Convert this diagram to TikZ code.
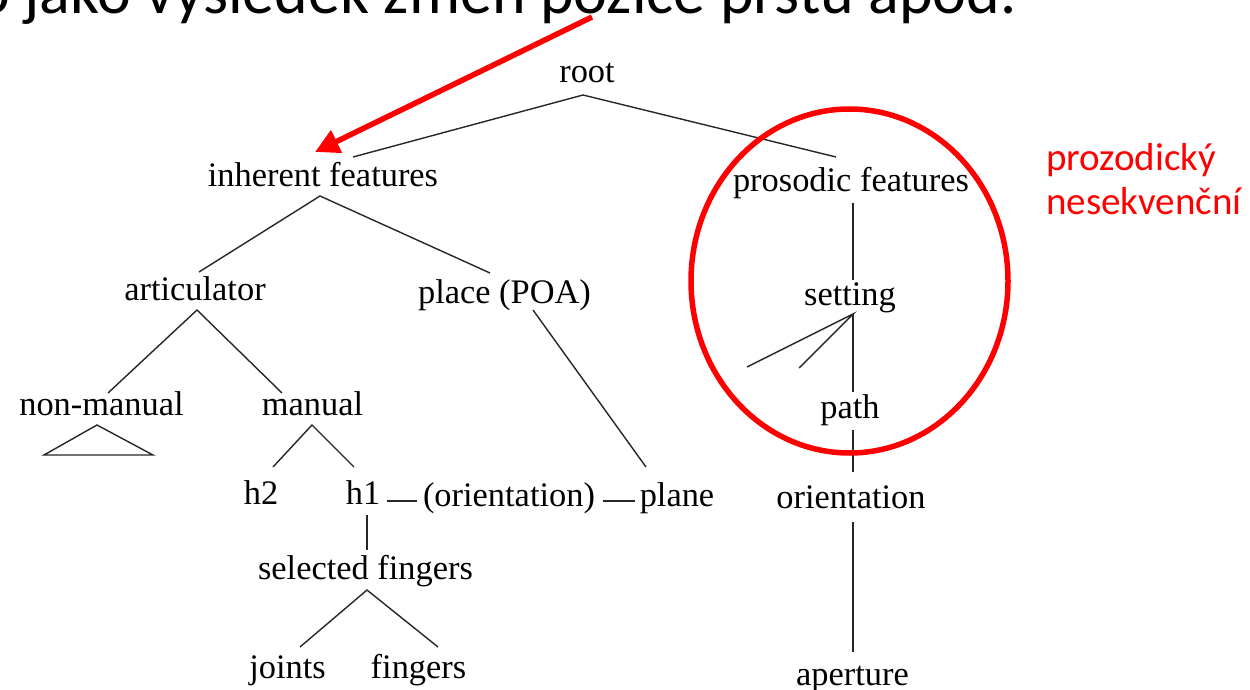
\documentclass[tikz,border=0pt]{standalone}
\usepackage{fontspec}
\setmainfont{Liberation Serif}
\newfontfamily\calfont{Carlito}
\usetikzlibrary{arrows.meta}
\begin{document}
\begin{tikzpicture}[x=1pt,y=-1pt,
  lbl/.style={anchor=base, inner sep=0pt, font=\fontsize{34.4}{40}\selectfont},
  edge/.style={line width=1.4pt, black!85},
  redtxt/.style={anchor=base west, inner sep=0pt, text=red, font=\calfont\fontsize{39}{44}\selectfont},
  redline/.style={line width=5.5pt, red}]
\useasboundingbox (0,0) rectangle (1250,690);
\clip (0,0) rectangle (1250,690);

% heading (cut off at top, as in the reference)
\node[anchor=base west, inner sep=0pt, font=\calfont\fontsize{64}{70}\selectfont] (head) at (-24,14) {o jako výsledek změn pozice prstu apod.};

% tree labels
\node[lbl] (root) at (587,83) {root};
\node[lbl] (inh) at (323,186) {inherent features};
\node[lbl] (pros) at (851,191) {prosodic features};
\node[lbl] (art) at (195,300) {articulator};
\node[lbl] (place) at (504.5,303) {place (POA)};
\node[lbl] (nonman) at (101.5,415) {non-manual};
\node[lbl] (man) at (312.5,415) {manual};
\node[lbl] (h2) at (261,504) {h2};
\node[lbl] (h1) at (363,504) {h1};
\node[lbl] (orp) at (509,506) {(orientation)};
\node[lbl] (plane) at (677,506) {plane};
\node[lbl] (self) at (365.5,579) {selected fingers};
\node[lbl] (joints) at (287.5,678) {joints};
\node[lbl] (fing) at (418.5,678) {fingers};
\node[lbl] (sett) at (850,305) {setting};
\node[lbl] (path) at (850,418) {path};
\node[lbl] (orient) at (851,508) {orientation};
\node[lbl] (apert) at (852.5,685) {aperture};

% connector end points
\coordinate (root-d) at (583,95);
\coordinate (inh-u) at (353,157);
\coordinate (pros-u) at (836,157);
\coordinate (inh-d) at (320,196);
\coordinate (art-u) at (199,272);
\coordinate (place-u) at (490,273);
\coordinate (art-d) at (197,310);
\coordinate (nonman-u) at (108,393);
\coordinate (man-u) at (282,393);
\coordinate (tri-a) at (97,425);
\coordinate (tri-l) at (44,455);
\coordinate (tri-r) at (153,455);
\coordinate (man-d) at (312,425);
\coordinate (h2-u) at (273,467);
\coordinate (h1-u) at (354,467);
\coordinate (h1-r) at (387,501);
\coordinate (orp-l) at (417,501);
\coordinate (orp-r) at (603,501);
\coordinate (plane-l) at (635,501);
\coordinate (h1-d) at (367,515);
\coordinate (self-u) at (367,550);
\coordinate (self-d) at (367,590);
\coordinate (joints-u) at (300,647);
\coordinate (fing-u) at (438,647);
\coordinate (place-d) at (533,310);
\coordinate (plane-u) at (646,467);
\coordinate (pros-d) at (853,203);
\coordinate (sett-u) at (853,280);
\coordinate (sett-d) at (853,314);
\coordinate (br1) at (747,367);
\coordinate (br2) at (799,368);
\coordinate (path-u) at (853,392);
\coordinate (path-d) at (853,430);
\coordinate (orient-u) at (853,472);
\coordinate (orient-d) at (853,522);
\coordinate (apert-u) at (853,652);

% connectors
\draw[edge] (inh-u) -- (root-d) -- (pros-u);
\draw[edge] (art-u) -- (inh-d) -- (place-u);
\draw[edge] (nonman-u) -- (art-d) -- (man-u);
\draw[edge] (tri-a) -- (tri-l) -- (tri-r) -- cycle;
\draw[edge] (h2-u) -- (man-d) -- (h1-u);
\draw[edge] (h1-r) -- (orp-l);
\draw[edge] (orp-r) -- (plane-l);
\draw[edge] (h1-d) -- (self-u);
\draw[edge] (joints-u) -- (self-d) -- (fing-u);
\draw[edge] (place-d) -- (plane-u);
\draw[edge] (pros-d) -- (sett-u);
\draw[edge] (br1) -- (sett-d) -- (br2);
\draw[edge] (sett-d) -- (path-u);
\draw[edge] (path-d) -- (orient-u);
\draw[edge] (orient-d) -- (apert-u);

% red annotations
\draw[redline] (849.5,281) ellipse [x radius=158.5, y radius=172];
\coordinate (arr-s) at (592,17);
\coordinate (arr-e) at (315,152);
\draw[redline, -{Triangle[length=24pt,width=24pt]}] (arr-s) -- (arr-e);
\node[redtxt] (lab1) at (1046,170) {prozodický};
\node[redtxt] (lab2) at (1046,214) {nesekvenční};
\end{tikzpicture}
\end{document}
